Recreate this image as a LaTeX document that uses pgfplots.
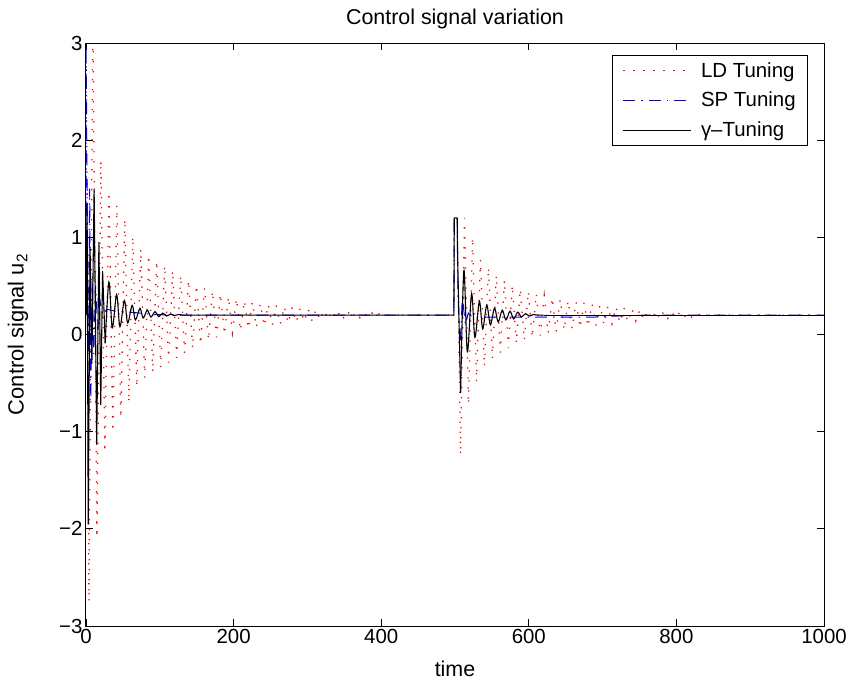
\documentclass[border=0pt]{standalone}
\usepackage{fontspec}
\setmainfont{Liberation Sans}
\usepackage{pgfplots}
\pgfplotsset{compat=1.18}
\begin{document}
\begin{tikzpicture}
\useasboundingbox (-86bp,-59bp) rectangle (768bp,626bp);
\begin{axis}[
  at={(0,0)}, anchor=south west,
  scale only axis, width=738bp, height=583bp,
  xmin=0, xmax=1000, ymin=-3, ymax=3,
  xtick={0,200,400,600,800,1000},
  xticklabels={0,200,400,600,800,1000},
  ytick={-3,-2,-1,0,1,2,3},
  yticklabels={−3,−2,−1,0,1,2,3},
  tick align=inside,
  major tick length=7bp,
  every tick/.style={black, line width=0.8bp},
  axis line style={line width=1bp},
  tick label style={font=\fontsize{20.5}{24}\selectfont},
  title={Control signal variation},
  title style={font=\fontsize{21.5}{25}\selectfont, at={(axis description cs:0.5,1.021)}, anchor=base},
  xlabel={time},
  xlabel style={font=\fontsize{21.5}{25}\selectfont, at={(axis description cs:0.5,-0.086)}, anchor=base},
  ylabel={Control signal u\textsubscript{2}},
  ylabel style={font=\fontsize{22}{25}\selectfont, at={(axis description cs:-0.0921,0.5)}, anchor=center},
  legend cell align=left,
  legend style={at={(axis description cs:1,1)}, anchor=north east, xshift=-16bp, yshift=-12bp,
    draw=black, line width=0.8bp, font=\fontsize{20.5}{24}\selectfont, inner xsep=10bp, inner ysep=5bp,
    row sep=9.5bp},
  legend image code/.code={\draw[#1] (0bp,0bp) -- (68bp,0bp);},
]
\addplot[red, line width=1.3bp, dash pattern=on 1.3bp off 8.7bp] coordinates {
(0,0.2)(1.5,1.6)(4,-2.75)(9.4,3.28)(14.8,-2.09)(20.2,1.79)(25.6,-1.21)(31,1.47)(36.4,-1.00)(41.8,1.33)(47.2,-0.86)(52.6,1.19)(58,-0.70)(63.4,1.01)(68.8,-0.54)(74.2,0.88)(79.6,-0.45)(85,0.82)(90.4,-0.39)(95.8,0.76)(101.2,-0.34)(106.6,0.71)(112,-0.29)(117.4,0.66)(122.8,-0.24)(128.2,0.61)(133.6,-0.19)(139,0.56)(144.4,-0.14)(149.8,0.51)(155.2,-0.10)(160.6,0.48)(166,-0.06)(171.4,0.45)(176.8,-0.03)(182.2,0.42)(187.6,0.00)(193,0.39)(198.4,0.02)(203.8,0.37)(209.2,0.04)(214.6,0.35)(220,0.06)(225.4,0.335)(230.8,0.072)(236.2,0.32)(241.6,0.085)(247,0.31)(252.4,0.095)(257.8,0.30)(263.2,0.105)(268.6,0.29)(274,0.115)(279.4,0.28)(284.8,0.125)(290.2,0.27)(295.6,0.133)(301,0.263)(306.4,0.14)(311.8,0.257)(317.2,0.147)(322.6,0.25)(328,0.153)(333.4,0.244)(338.8,0.16)(344.2,0.238)(349.6,0.164)(355,0.234)(360.4,0.168)(365.8,0.23)(371.2,0.172)(376.6,0.226)(382,0.175)(387.4,0.223)(392.8,0.178)(398.2,0.22)(405,0.2)(498.5,0.2)(499,1.2)(503,1.2)(507.5,-1.24)(512.9,1.2)(518.3,-0.72)(523.7,1.00)(529.1,-0.49)(534.5,0.77)(539.9,-0.33)(545.3,0.69)(550.7,-0.25)(556.1,0.61)(561.5,-0.185)(566.9,0.56)(572.3,-0.14)(577.7,0.51)(583.1,-0.09)(588.5,0.47)(593.9,-0.06)(599.3,0.445)(604.7,-0.033)(610.1,0.42)(615.5,-0.01)(620.9,0.40)(626.3,0.01)(631.7,0.38)(637.1,0.027)(642.5,0.364)(647.9,0.045)(653.3,0.348)(658.7,0.058)(664.1,0.337)(669.5,0.068)(674.9,0.327)(680.3,0.079)(685.7,0.316)(691.1,0.09)(696.5,0.305)(701.9,0.10)(707.3,0.295)(712.7,0.11)(718.1,0.284)(723.5,0.121)(728.9,0.274)(734.3,0.13)(739.7,0.266)(745.1,0.139)(750.5,0.257)(755.9,0.147)(761.3,0.249)(766.7,0.154)(772.1,0.243)(777.5,0.16)(782.9,0.237)(788.3,0.166)(793.7,0.232)(799.1,0.17)(804.5,0.228)(809.9,0.174)(815.3,0.224)(820.7,0.178)(826.1,0.22)(833,0.2)(1000,0.2)
};
\addlegendentry{\hspace{7bp}LD Tuning}
\addplot[blue, line width=1bp, dash pattern=on 12bp off 6bp on 1.5bp off 6bp] coordinates {
(0,0.2)(0.15,3.0)(2,0.9)(3.5,-0.2)(5,1.5)(6.5,-0.7)(8.5,0.6)(10.5,-0.2)(13,0.5)(16,0.05)(19,0.35)(23,0.2)(28,0.26)(40,0.24)(60,0.23)(80,0.215)(110,0.2)(498.5,0.2)(499,1.2)(503,1.2)(504,0.4)(507,-0.13)(510,0.39)(514,0.1)(518,0.22)(525,0.17)(540,0.18)(690,0.18)(720,0.19)(760,0.2)(1000,0.2)
};
\addlegendentry{\hspace{7bp}SP Tuning}
\addplot[black, line width=1.1bp, line join=round] coordinates {
(0,0.2)(1.5,1.35)(3,-1.95)(5.5,0.9)(8,-0.3)(11,1.5)(14.5,-1.13)(17.5,0.95)(20,-0.72)(22.5,0.65)(26,-0.09)
};
\addlegendentry{\hspace{7bp}γ–Tuning}
\addplot[black, line width=1.1bp, smooth, tension=0.55, forget plot] coordinates {
(26,-0.09)(31,0.54)(35.6,0.07)(41.5,0.41)(46,0.08)(52,0.35)(56.5,0.12)(62.5,0.3)(67,0.15)(73,0.27)(77.5,0.17)(83,0.25)(88,0.18)(93.5,0.235)(98.5,0.185)(104,0.22)(109,0.19)(114.5,0.21)(120,0.195)(125,0.205)(131,0.2)(140,0.2)
};
\addplot[black, line width=1.1bp, line join=round, forget plot] coordinates {
(140,0.2)(498.5,0.2)(499,1.2)(503,1.2)(503.5,0.8)(507.6,-0.6)
};
\addplot[black, line width=1.1bp, smooth, tension=0.55, forget plot] coordinates {
(507.6,-0.6)(512,0.66)(516.7,-0.18)(522.5,0.42)(527,-0.03)(533,0.34)(537.5,0.06)(543,0.3)(548,0.1)(553.5,0.27)(558.5,0.13)(564,0.25)(569,0.15)(574.5,0.24)(579.5,0.16)(585,0.23)(590,0.18)(595.5,0.215)(600.5,0.19)(606,0.205)(612,0.2)(620,0.2)
};
\addplot[black, line width=1.1bp, forget plot] coordinates {
(620,0.2)(1000,0.2)
};
\end{axis}
\end{tikzpicture}
\end{document}
